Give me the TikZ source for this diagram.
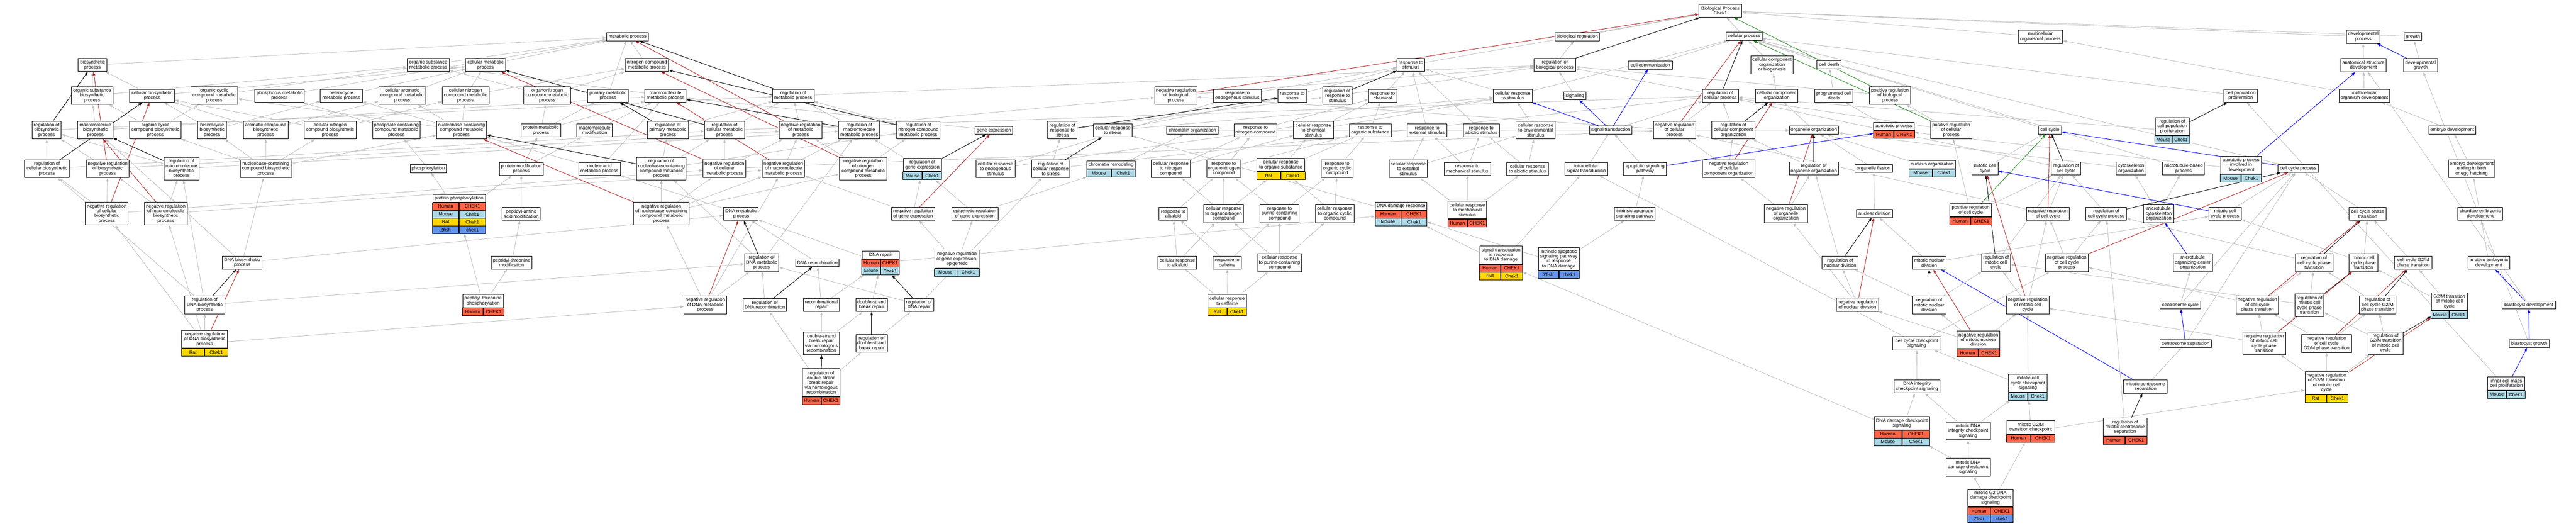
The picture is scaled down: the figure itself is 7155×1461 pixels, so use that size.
\documentclass[tikz,border=0pt]{standalone}
\usepackage{fontspec}
\setmainfont{Liberation Sans}
\usetikzlibrary{arrows.meta,calc,fit,backgrounds}

\definecolor{human}{HTML}{FF6347}
\definecolor{mouse}{HTML}{ADD8E6}
\definecolor{rat}{HTML}{FFD700}
\definecolor{zfish}{HTML}{6495ED}
\definecolor{edgegrey}{HTML}{C0C0C0}
\definecolor{negred}{HTML}{B22222}
\definecolor{posgreen}{HTML}{228B22}

\newcommand{\gofont}{\fontsize{13}{13.4}\selectfont}

\tikzset{
  term/.style={draw=black,fill=white,line width=1.3pt,inner xsep=3pt,inner ysep=0pt,align=center,font=\gofont},
  h1/.style={minimum height=22},
  h2/.style={minimum height=36.5},
  h3/.style={minimum height=49.5},
  h4/.style={minimum height=63},
  h5/.style={minimum height=76},
  cell/.style={draw=black,line width=1.3pt,inner sep=0pt,minimum height=21.5,font=\gofont},
  isa/.style={draw=edgegrey,line width=1.3pt,-{Triangle[length=10pt,width=7pt]}},
  reg/.style={isa,draw=black},
  negreg/.style={isa,draw=negred},
  posreg/.style={isa,draw=posgreen},
  partof/.style={isa,draw=blue}
}

% species/gene rows under a term: name, half width, list
\newcommand{\orth}[3]{%
  \foreach \spc/\gn/\cl [count=\i] in {#3}{
    \node[cell,fill=\cl,minimum width=#2,anchor=north east] (#1-\i a) at ($(t-#1.south)+(0,{(\i-1)*21.5})$) {\spc};
    \node[cell,fill=\cl,minimum width=#2,anchor=north west] (#1-\i b) at ($(t-#1.south)+(0,{(\i-1)*21.5})$) {\gn};
    \coordinate (#1-end) at (#1-\i b.south east);
  }
  \node[fit=(t-#1)(#1-end),inner sep=0pt] (#1) {};
}

\begin{document}
\begin{tikzpicture}[x=1pt,y=-1pt]
\useasboundingbox (0,0) rectangle (7155,1461);

% --- biosynthesis ---
\node[term,h2,minimum width=80] (biosyn) at (257,180.5) {biosynthetic\\process};
\node[term,h2,minimum width=117] (orgsubmet) at (1189.5,180.5) {organic substance\\metabolic process};
\node[term,h3,minimum width=116] (orgsubbio) at (256,265.5) {organic substance\\biosynthetic\\process};
\node[term,h2,minimum width=125] (cellbio) at (422.5,266) {cellular biosynthetic\\process};
\node[term,h3,minimum width=130] (orgcycmet) at (595,265.5) {organic cyclic\\compound metabolic\\process};
\node[term,h2,minimum width=137] (phosmet) at (776.5,266) {phosphorus metabolic\\process};
\node[term,h2,minimum width=116] (hetmet) at (948,266) {heterocycle\\metabolic process};
\node[term,h3,minimum width=130] (celaromet) at (1117,265.5) {cellular aromatic\\compound metabolic\\process};
\node[term,h3,minimum width=81] (regbio) at (129.5,361.5) {regulation of\\biosynthetic\\process};
\node[term,h3,minimum width=98] (macrobio) at (265,361.5) {macromolecule\\biosynthetic\\process};
\node[term,h3,minimum width=143] (orgcycbio) at (431.5,361.5) {organic cyclic\\compound biosynthetic\\process};
\node[term,h3,minimum width=80] (hetbio) at (589,361.5) {heterocycle\\biosynthetic\\process};
\node[term,h3,minimum width=124] (arobio) at (738,361.5) {aromatic compound\\biosynthetic\\process};
\node[term,h3,minimum width=144] (celnitbio) at (917,361.5) {cellular nitrogen\\compound biosynthetic\\process};
\node[term,h3,minimum width=132] (phoscont) at (1101,361.5) {phosphate-containing\\compound metabolic\\process};
\node[term,h3,minimum width=125] (regcelbio) at (130.5,468.5) {regulation of\\cellular biosynthetic\\process};
\node[term,h3,minimum width=118] (negregbio) at (299,468.5) {negative regulation\\of biosynthetic\\process};
\node[term,h4,minimum width=98] (regmacrobio) at (504,468.5) {regulation of\\macromolecule\\biosynthetic\\process};
\node[term,h3,minimum width=143] (nucbio) at (738.5,468.5) {nucleobase-containing\\compound biosynthetic\\process};
\node[term,h1,minimum width=101] (phosph) at (1189.5,468.5) {phosphorylation};
\node[term,h4,minimum width=119] (negregcelbio) at (296.5,593.5) {negative regulation\\of cellular\\biosynthetic\\process};
\node[term,h4,minimum width=119] (negregmacrobio) at (460.5,593.5) {negative regulation\\of macromolecule\\biosynthetic\\process};
\node[term,h2,minimum width=111] (dnabio) at (672.5,729.5) {DNA biosynthetic\\process};
\node[term,h3,minimum width=111] (regdnabio) at (568.5,847) {regulation of\\DNA biosynthetic\\process};
\node[term,h3,minimum width=127] (t-negregdnabio) at (568.5,942.5) {negative regulation\\of DNA biosynthetic\\process};
\orth{negregdnabio}{63.5}{Rat/Chek1/rat}

% --- metabolism ---
\node[term,h1,minimum width=116] (metab) at (1743,102) {metabolic process};
\node[term,h2,minimum width=111] (celmet) at (1348.5,180.5) {cellular metabolic\\process};
\node[term,h2,minimum width=120] (nitmet) at (1797,180.5) {nitrogen compound\\metabolic process};
\node[term,h3,minimum width=130] (celnitmet) at (1293,265.5) {cellular nitrogen\\compound metabolic\\process};
\node[term,h3,minimum width=130] (orgnitmet) at (1520,265.5) {organonitrogen\\compound metabolic\\process};
\node[term,h2,minimum width=113] (primet) at (1688.5,266) {primary metabolic\\process};
\node[term,h2,minimum width=115] (macromet) at (1848.5,266) {macromolecule\\metabolic process};
\node[term,h2,minimum width=116] (regmet) at (2203,266) {regulation of\\metabolic process};
\node[term,h3,minimum width=138] (nucmet) at (1282,361.5) {nucleobase-containing\\compound metabolic\\process};
\node[term,h2,minimum width=109] (protmet) at (1502.5,362) {protein metabolic\\process};
\node[term,h2,minimum width=99] (macromod) at (1651.5,362) {macromolecule\\modification};
\node[term,h3,minimum width=114] (regprimet) at (1855,361.5) {regulation of\\primary metabolic\\process};
\node[term,h3,minimum width=111] (regcelmet) at (2012.5,361.5) {regulation of\\cellular metabolic\\process};
\node[term,h3,minimum width=118] (negregmet) at (2224,361.5) {negative regulation\\of metabolic\\process};
\node[term,h3,minimum width=115] (regmacromet) at (2386.5,361.5) {regulation of\\macromolecule\\metabolic process};
\node[term,h2,minimum width=122] (protmod) at (1448,469) {protein modification\\process};
\node[term,h2,minimum width=116] (nucacid) at (1665,469) {nucleic acid\\metabolic process};
\node[term,h4,minimum width=138] (regnucmet) at (1837,468.5) {regulation of\\nucleobase-containing\\compound metabolic\\process};
\node[term,h3,minimum width=118] (negregcelmet) at (2012,468.5) {negative regulation\\of cellular\\metabolic process};
\node[term,h3,minimum width=118] (negregmacromet) at (2176,468.5) {negative regulation\\of macromolecule\\metabolic process};
\node[term,h4,minimum width=131] (negregnitmet) at (2397.5,468.5) {negative regulation\\of nitrogen\\compound metabolic\\process};
\node[term,h1,minimum width=146] (t-protphos) at (1275,550.5) {protein phosphorylation};
\orth{protphos}{73}{Human/CHEK1/human,Mouse/Chek1/mouse,Rat/Chek1/rat,Zfish/chek1/zfish}
\node[term,h2,minimum width=107] (peptaa) at (1447.5,594) {peptidyl-amino\\acid modification};
\node[term,h4,minimum width=154] (negregnucmet) at (1837,593.5) {negative regulation\\of nucleobase-containing\\compound metabolic\\process};
\node[term,h2,minimum width=96] (dnamet) at (2058,594) {DNA metabolic\\process};
\node[term,h2,minimum width=112] (pepthrmod) at (1421,729.5) {peptidyl-threonine\\modification};
\node[term,h3,minimum width=95] (regdnamet) at (2115.5,729.5) {regulation of\\DNA metabolic\\process};
\node[term,h1,minimum width=121] (dnarec) at (2270.5,730) {DNA recombination};
\node[term,h2,minimum width=114] (t-pepthrphos) at (1342,836) {peptidyl-threonine\\phosphorylation};
\orth{pepthrphos}{57}{Human/CHEK1/human}
\node[term,h3,minimum width=118] (negregdnamet) at (1959,847) {negative regulation\\of DNA metabolic\\process};
\node[term,h2,minimum width=121] (regdnarec) at (2124.5,847) {regulation of\\DNA recombination};
\node[term,h2,minimum width=101] (recrep) at (2281.5,847) {recombinational\\repair};
\node[term,h4,minimum width=101] (dsbhr) at (2281.5,953.5) {double-strand\\break repair\\via homologous\\recombination};
\node[term,h5,minimum width=104] (t-regdsbhr) at (2281,1062.5) {regulation of\\double-strand\\break repair\\via homologous\\recombination};
\orth{regdsbhr}{52}{Human/CHEK1/human}
\node[term,h1,minimum width=103] (t-dnarep) at (2446,708) {DNA repair};
\orth{dnarep}{51.5}{Human/CHEK1/human,Mouse/Chek1/mouse}
\node[term,h2,minimum width=88] (dsbrep) at (2421,847) {double-strand\\break repair};
\node[term,h2,minimum width=81] (regdnarep) at (2552.5,847) {regulation of\\DNA repair};
\node[term,h3,minimum width=88] (regdsb) at (2421,953.5) {regulation of\\double-strand\\break repair};

% --- gene expression, stress, chemicals ---
\node[term,h3,minimum width=120] (regnitmet) at (2551,361.5) {regulation of\\nitrogen compound\\metabolic process};
\node[term,h1,minimum width=105] (geneexp) at (2760.5,362) {gene expression};
\node[term,h3,minimum width=82] (regrespstress) at (2951,361.5) {regulation of\\response to\\stress};
\node[term,h2,minimum width=108] (celrespstress) at (3091,362) {cellular response\\to stress};
\node[term,h1,minimum width=142] (chromorg) at (3312,362) {chromatin organization};
\node[term,h2,minimum width=119] (respnit) at (3487.5,362) {response to\\nitrogen compound};
\node[term,h3,minimum width=111] (celrespchem) at (3648,361.5) {cellular response\\to chemical\\stimulus};
\node[term,h2,minimum width=106] (t-reggeneexp) at (2562,458) {regulation of\\gene expression};
\orth{reggeneexp}{53}{Mouse/Chek1/mouse}
\node[term,h3,minimum width=108] (celrespendo) at (2765,468.5) {cellular response\\to endogenous\\stimulus};
\node[term,h3,minimum width=107] (regcelrespstress) at (2918.5,468.5) {regulation of\\cellular response\\to stress};
\node[term,h1,minimum width=134] (t-chromrem) at (3086,458) {chromatin remodeling};
\orth{chromrem}{67}{Mouse/Chek1/mouse}
\node[term,h3,minimum width=108] (celrespnit) at (3252,468.5) {cellular response\\to nitrogen\\compound};
\node[term,h3,minimum width=94] (resporgnit) at (3399,468.5) {response to\\organonitrogen\\compound};
\node[term,h2,minimum width=133] (t-celresporg) at (3557.5,458) {cellular response\\to organic substance};
\orth{celresporg}{66.5}{Rat/Chek1/rat}
\node[term,h2,minimum width=120] (negreggeneexp) at (2536,594) {negative regulation\\of gene expression};
\node[term,h2,minimum width=129] (epireg) at (2707.5,594) {epigenetic regulation\\of gene expression};
\node[term,h2,minimum width=79] (respalk) at (3258.5,594) {response to\\alkaloid};
\node[term,h3,minimum width=111] (celresporgnit) at (3398.5,593.5) {cellular response\\to organonitrogen\\compound};
\node[term,h3,minimum width=108] (resppur) at (3554,593.5) {response to\\purine-containing\\compound};
\node[term,h3,minimum width=124] (t-negrepi) at (2658,719.5) {negative regulation\\of gene expression,\\epigenetic};
\orth{negrepi}{62}{Mouse/Chek1/mouse}
\node[term,h2,minimum width=108] (celrespalk) at (3270,729.5) {cellular response\\to alkaloid};
\node[term,h2,minimum width=79] (respcaf) at (3408.5,729.5) {response to\\caffeine};
\node[term,h3,minimum width=122] (celresppur) at (3554,729.5) {cellular response\\to purine-containing\\compound};
\node[term,h2,minimum width=107] (t-celrespcaf) at (3408.5,836) {cellular response\\to caffeine};
\orth{celrespcaf}{53.5}{Rat/Chek1/rat}
\node[term,h3,minimum width=118] (negregbp) at (3266,265.5) {negative regulation\\of biological\\process};
\node[term,h2,minimum width=134] (respendo) at (3437,266) {response to\\endogenous stimulus};
\node[term,h2,minimum width=79] (respstress) at (3589.5,266) {response to\\stress};

% --- stimulus and signalling ---
\node[term,h2,minimum width=119] (root) at (4778.5,30) {Biological Process\\Chek1};
\node[term,h1,minimum width=123] (bioreg) at (4380.5,102) {biological regulation};
\node[term,h2,minimum width=78] (respstim) at (3919,180.5) {response to\\stimulus};
\node[term,h2,minimum width=115] (regbp) at (4318.5,180.5) {regulation of\\biological process};
\node[term,h1,minimum width=122] (cellcomm) at (4584,181) {cell communication};
\node[term,h3,minimum width=82] (regrespstim) at (3715,265.5) {regulation of\\response to\\stimulus};
\node[term,h2,minimum width=79] (respchem) at (3840.5,266) {response to\\chemical};
\node[term,h2,minimum width=108] (celrespstim) at (4202,266) {cellular response\\to stimulus};
\node[term,h1,minimum width=61] (signaling) at (4374.5,266.5) {signaling};
\node[term,h2,minimum width=101] (regcp) at (4778.5,266) {regulation of\\cellular process};
\node[term,h2,minimum width=116] (resporg) at (3806,362) {response to\\organic substance};
\node[term,h2,minimum width=110] (respext) at (3964,362) {response to\\external stimulus};
\node[term,h2,minimum width=101] (respabio) at (4114.5,362) {response to\\abiotic stimulus};
\node[term,h3,minimum width=109] (celrespenv) at (4265.5,361.5) {cellular response\\to environmental\\stimulus};
\node[term,h1,minimum width=118] (sigtrans) at (4474,361.5) {signal transduction};
\node[term,h3,minimum width=118] (negregcp) at (4651,361.5) {negative regulation\\of cellular\\process};
\node[term,h3,minimum width=119] (regccorg) at (4814.5,361.5) {regulation of\\cellular component\\organization};
\node[term,h3,minimum width=90] (respcyc) at (3714,468.5) {response to\\organic cyclic\\compound};
\node[term,h3,minimum width=107] (celrespext) at (3911.5,468.5) {cellular response\\to external\\stimulus};
\node[term,h2,minimum width=129] (respmech) at (4075.5,469) {response to\\mechanical stimulus};
\node[term,h2,minimum width=116] (celrespabio) at (4243,469) {cellular response\\to abiotic stimulus};
\node[term,h2,minimum width=118] (intrasig) at (4406,469) {intracellular\\signal transduction};
\node[term,h2,minimum width=119] (aposig) at (4569.5,469) {apoptotic signaling\\pathway};
\node[term,h3,minimum width=147] (negregccorg) at (4801.5,468.5) {negative regulation\\of cellular\\component organization};
\node[term,h3,minimum width=107] (celrespcyc) at (3707.5,593.5) {cellular response\\to organic cyclic\\compound};
\node[term,h1,minimum width=143] (t-dnadam) at (3891.5,572) {DNA damage response};
\orth{dnadam}{71.5}{Human/CHEK1/human,Mouse/Chek1/mouse}
\node[term,h3,minimum width=107] (t-celrespmech) at (4075.5,583) {cellular response\\to mechanical\\stimulus};
\orth{celrespmech}{53.5}{Human/CHEK1/human}
\node[term,h2,minimum width=113] (intrapo) at (4540.5,594) {intrinsic apoptotic\\signaling pathway};
\node[term,h3,minimum width=118] (t-sigdna) at (4169,708.5) {signal transduction\\in response\\to DNA damage};
\orth{sigdna}{59}{Human/CHEK1/human,Rat/Chek1/rat}
\node[term,h4,minimum width=113] (t-intrapodna) at (4329.5,719.5) {intrinsic apoptotic\\signaling pathway\\in response\\to DNA damage};
\orth{intrapodna}{56.5}{Zfish/chek1/zfish}

% --- cellular process, cell cycle ---
\node[term,h1,minimum width=100] (cellproc) at (4844,101) {cellular process};
\node[term,h2,minimum width=123] (multorg) at (5667.5,102) {multicellular\\organismal process};
\node[term,h3,minimum width=118] (ccob) at (4922,180) {cellular component\\organization\\or biogenesis};
\node[term,h1,minimum width=67] (celldeath) at (5080.5,179.5) {cell death};
\node[term,h2,minimum width=118] (ccorg) at (4935,266) {cellular component\\organization};
\node[term,h2,minimum width=107] (pcd) at (5093.5,266) {programmed cell\\death};
\node[term,h3,minimum width=115] (posregbp) at (5249.5,265.5) {positive regulation\\of biological\\process};
\node[term,h1,minimum width=136] (orgorg) at (5038,361.5) {organelle organization};
\node[term,h1,minimum width=113] (t-apop) at (5260.5,350.5) {apoptotic process};
\orth{apop}{56.5}{Human/CHEK1/human}
\node[term,h3,minimum width=115] (posregcp) at (5419.5,361.5) {positive regulation\\of cellular\\process};
\node[term,h1,minimum width=65] (cellcycle) at (5693.5,361.5) {cell cycle};
\node[term,h2,minimum width=136] (regorgorg) at (5038,468) {regulation of\\organelle organization};
\node[term,h1,minimum width=104] (orgfis) at (5204,468) {organelle fission};
\node[term,h1,minimum width=128] (t-nucorg) at (5367,457) {nucleus organization};
\orth{nucorg}{64}{Mouse/Chek1/mouse}
\node[term,h2,minimum width=73] (mitcc) at (5513.5,468) {mitotic cell\\cycle};
\node[term,h2,minimum width=81] (regcc) at (5738.5,468) {regulation of\\cell cycle};
\node[term,h2,minimum width=82] (cytorg) at (5919,468) {cytoskeleton\\organization};
\node[term,h3,minimum width=119] (negregorgorg) at (4960.5,593.5) {negative regulation\\of organelle\\organization};
\node[term,h1,minimum width=100] (nucdiv) at (5207,593) {nuclear division};
\node[term,h2,minimum width=116] (t-posregcc) at (5474,584) {positive regulation\\of cell cycle};
\orth{posregcc}{58}{Human/CHEK1/human}
\node[term,h2,minimum width=118] (negregcc) at (5688,594) {negative regulation\\of cell cycle};
\node[term,h2,minimum width=114] (regccp) at (5850,594) {regulation of\\cell cycle process};
\node[term,h3,minimum width=84] (mtcyto) at (5996,593.5) {microtubule\\cytoskeleton\\organization};
\node[term,h2,minimum width=100] (regnucdiv) at (5111,730) {regulation of\\nuclear division};
\node[term,h2,minimum width=95] (mitnucdiv) at (5358.5,730) {mitotic nuclear\\division};
\node[term,h3,minimum width=80] (regmitcc) at (5544,729.5) {regulation of\\mitotic cell\\cycle};
\node[term,h3,minimum width=119] (negregccp) at (5740.5,729.5) {negative regulation\\of cell cycle\\process};
\node[term,h2,minimum width=118] (negregnucdiv) at (5159,846) {negative regulation\\of nuclear division};
\node[term,h3,minimum width=95] (regmitnucdiv) at (5358.5,847) {regulation of\\mitotic nuclear\\division};
\node[term,h3,minimum width=118] (negregmitcc) at (5632,847) {negative regulation\\of mitotic cell\\cycle};
\node[term,h3,minimum width=118] (t-negregmitnucdiv) at (5495,943.5) {negative regulation\\of mitotic nuclear\\division};
\orth{negregmitnucdiv}{59}{Human/CHEK1/human}
\node[term,h2,minimum width=134] (ccchk) at (5324,954) {cell cycle checkpoint\\signaling};
\node[term,h2,minimum width=127] (dnaintchk) at (5324.5,1073.5) {DNA integrity\\checkpoint signaling};
\node[term,h3,minimum width=107] (t-mitccchk) at (5632.5,1064.5) {mitotic cell\\cycle checkpoint\\signaling};
\orth{mitccchk}{53.5}{Mouse/Chek1/mouse}
\node[term,h2,minimum width=122] (mitcsep) at (5959,1074) {mitotic centrosome\\separation};
\node[term,h2,minimum width=153] (t-dnadamchk) at (5282.5,1175.5) {DNA damage checkpoint\\signaling};
\orth{dnadamchk}{76.5}{Human/CHEK1/human,Mouse/Chek1/mouse}
\node[term,h3,minimum width=123] (mitdnaintchk) at (5466.5,1197) {mitotic DNA\\integrity checkpoint\\signaling};
\node[term,h2,minimum width=133] (t-mitg2mchk) at (5640.5,1187) {mitotic G2/M\\transition checkpoint};
\orth{mitg2mchk}{66.5}{Human/CHEK1/human}
\node[term,h3,minimum width=121] (t-regmitcsep) at (5902.5,1186.5) {regulation of\\mitotic centrosome\\separation};
\orth{regmitcsep}{60.5}{Human/CHEK1/human}
\node[term,h3,minimum width=123] (mitdnadamchk) at (5466.5,1298) {mitotic DNA\\damage checkpoint\\signaling};
\node[term,h3,minimum width=125] (t-mitg2dna) at (5528.5,1383) {mitotic G2 DNA\\damage checkpoint\\signaling};
\orth{mitg2dna}{62.5}{Human/CHEK1/human,Zfish/chek1/zfish}

% --- development, phase transitions ---
\node[term,h2,minimum width=94] (devproc) at (6564,102) {developmental\\process};
\node[term,h1,minimum width=48] (growth) at (6702,101.5) {growth};
\node[term,h2,minimum width=127] (anatdev) at (6564.5,181) {anatomical structure\\development};
\node[term,h2,minimum width=95] (devgrowth) at (6723.5,181) {developmental\\growth};
\node[term,h2,minimum width=93] (cellprolif) at (6223.5,266) {cell population\\proliferation};
\node[term,h2,minimum width=140] (multdev) at (6567,266) {multicellular\\organism development};
\node[term,h3,minimum width=95] (t-regcellprolif) at (6033.5,351.5) {regulation of\\cell population\\proliferation};
\orth{regcellprolif}{47.5}{Mouse/Chek1/mouse}
\node[term,h1,minimum width=130] (embdev) at (6811,361.5) {embryo development};
\node[term,h2,minimum width=116] (mtproc) at (6065,468) {microtubule-based\\process};
\node[term,h3,minimum width=113] (t-apodev) at (6224.5,458.5) {apoptotic process\\involved in\\development};
\orth{apodev}{56.5}{Mouse/Chek1/mouse}
\node[term,h1,minimum width=113] (ccproc) at (6383.5,468) {cell cycle process};
\node[term,h3,minimum width=130] (embbirth) at (6865,468.5) {embryo development\\ending in birth\\or egg hatching};
\node[term,h2,minimum width=90] (mitccproc) at (6180,594) {mitotic cell\\cycle process};
\node[term,h2,minimum width=103] (ccpt) at (6576.5,594) {cell cycle phase\\transition};
\node[term,h2,minimum width=124] (chorddev) at (6889,594) {chordate embryonic\\development};
\node[term,h3,minimum width=109] (mtoc) at (6090.5,729.5) {microtubule\\organizing center\\organization};
\node[term,h3,minimum width=105] (regccpt) at (6427.5,729.5) {regulation of\\cell cycle phase\\transition};
\node[term,h3,minimum width=80] (mitccpt) at (6565,729.5) {mitotic cell\\cycle phase\\transition};
\node[term,h2,minimum width=104] (g2mpt) at (6703,730) {cell cycle G2/M\\phase transition};
\node[term,h2,minimum width=116] (utero) at (6913,730) {in utero embryonic\\development};
\node[term,h1,minimum width=114] (csomecyc) at (6056,847) {centrosome cycle};
\node[term,h3,minimum width=118] (negregccpt) at (6270,847) {negative regulation\\of cell cycle\\phase transition};
\node[term,h4,minimum width=81] (regmitccpt) at (6414.5,847.5) {regulation of\\mitotic cell\\cycle phase\\transition};
\node[term,h3,minimum width=102] (regg2mpt) at (6604,847) {regulation of\\cell cycle G2/M\\phase transition};
\node[term,h3,minimum width=100] (t-g2mmit) at (6803,838) {G2/M transition\\of mitotic cell\\cycle};
\orth{g2mmit}{50}{Mouse/Chek1/mouse}
\node[term,h1,minimum width=148] (blastdev) at (7024,847) {blastocyst development};
\node[term,h1,minimum width=143] (csomesep) at (6070.5,954) {centrosome separation};
\node[term,h4,minimum width=119] (negregmitccpt) at (6288.5,953.5) {negative regulation\\of mitotic cell\\cycle phase\\transition};
\node[term,h3,minimum width=138] (negregg2mpt) at (6462,954) {negative regulation\\of cell cycle\\G2/M phase transition};
\node[term,h4,minimum width=98] (regg2mmit) at (6626,953.5) {regulation of\\G2/M transition\\of mitotic cell\\cycle};
\node[term,h1,minimum width=112] (blastgrowth) at (7025,954) {blastocyst growth};
\node[term,h4,minimum width=118] (t-negregg2mmit) at (6462,1063.5) {negative regulation\\of G2/M transition\\of mitotic cell\\cycle};
\orth{negregg2mmit}{59}{Rat/Chek1/rat}
\node[term,h2,minimum width=103] (t-icm) at (6961.5,1065.5) {inner cell mass\\cell proliferation};
\orth{icm}{51.5}{Mouse/Chek1/mouse}

% --- is_a / part_of links (grey) ---
\begin{scope}[on background layer]
\foreach \a/\b in {biosyn/metab, orgsubmet/metab, orgsubbio/biosyn, orgsubbio/orgsubmet, cellbio/biosyn, cellbio/celmet,
  orgcycmet/orgsubmet, phosmet/metab, hetmet/celmet, celaromet/celmet, regbio/regmet, macrobio/orgsubbio, macrobio/macromet,
  orgcycbio/orgsubbio, orgcycbio/orgcycmet, hetbio/cellbio, hetbio/hetmet, arobio/cellbio, arobio/celaromet,
  celnitbio/cellbio, celnitbio/celnitmet, phoscont/phosmet, regcelbio/regbio, regcelbio/regcelmet, negregbio/regbio,
  negregbio/negregmet, regmacrobio/regbio, regmacrobio/regmacromet, nucbio/hetbio, nucbio/arobio, nucbio/celnitbio,
  nucbio/nucmet, nucbio/orgcycbio, phosph/phoscont, negregcelbio/regcelbio, negregcelbio/negregbio, negregcelbio/negregcelmet,
  negregmacrobio/regmacrobio, negregmacrobio/negregbio, negregmacrobio/negregmacromet, dnabio/nucbio, dnabio/macrobio,
  dnabio/dnamet, regdnabio/regcelbio, regdnabio/regmacrobio, regdnabio/regdnamet, negregdnabio/regdnabio,
  negregdnabio/negregcelbio, negregdnabio/negregmacrobio, negregdnabio/negregdnamet,
  celmet/metab, nitmet/metab, celnitmet/celmet, celnitmet/nitmet, orgnitmet/orgsubmet, orgnitmet/nitmet, primet/metab,
  macromet/orgsubmet, regmet/regbp, nucmet/celnitmet, nucmet/hetmet, nucmet/celaromet, nucmet/orgcycmet,
  protmet/orgnitmet, protmet/macromet, protmet/primet, macromod/macromet, regprimet/regmet, regcelmet/regmet, regcelmet/regcp,
  negregmet/regmet, negregmet/negregbp, regmacromet/regmet, protmod/protmet, protmod/macromod, nucacid/nucmet, nucacid/macromet,
  regnucmet/regcelmet, regnucmet/regprimet, regnucmet/regnitmet, negregcelmet/regcelmet, negregcelmet/negregmet,
  negregcelmet/negregcp, negregmacromet/regmacromet, negregmacromet/negregmet, negregnitmet/regnitmet, negregnitmet/negregmet,
  protphos/protmod, protphos/phosph, peptaa/protmod, negregnucmet/regnucmet, negregnucmet/negregcelmet,
  negregnucmet/negregnitmet, negregnucmet/negregmacromet, dnamet/nucacid, pepthrmod/peptaa, regdnamet/regnucmet,
  regdnamet/regmacromet, dnarec/dnamet, pepthrphos/pepthrmod, pepthrphos/protphos, negregdnamet/regdnamet,
  negregdnamet/negregnucmet, negregdnamet/negregmacromet, regdnarec/regdnamet, recrep/dnarec, recrep/dnarep,
  dsbhr/recrep, dsbhr/dsbrep, regdsbhr/regdnarec, regdsbhr/regdsb, dnarep/dnamet, dnarep/dnadam, dsbrep/dnarep,
  regdnarep/regdnamet, regdnarep/regcelrespstress, regdsb/regdnarep,
  regnitmet/regmet, geneexp/macromet, reggeneexp/regmacromet, negreggeneexp/reggeneexp, negreggeneexp/negregmacromet,
  epireg/reggeneexp, epireg/chromrem, negrepi/epireg, negrepi/negreggeneexp, regrespstress/regrespstim,
  celrespstress/respstress, celrespstress/celrespstim, regcelrespstress/regrespstress, regcelrespstress/regcp,
  celrespendo/respendo, celrespendo/celrespstim, chromorg/orgorg, chromrem/chromorg, respnit/respchem,
  celrespnit/respnit, celrespnit/celrespchem, resporgnit/respnit, resporgnit/resporg, celresporg/resporg,
  celresporg/celrespchem, respalk/resporgnit, celresporgnit/resporgnit, celresporgnit/celrespnit, celresporgnit/celresporg,
  resppur/resporgnit, resppur/respcyc, celrespalk/respalk, celrespalk/celresporgnit, respcaf/respalk, respcaf/resppur,
  celresppur/resppur, celresppur/celresporgnit, celresppur/celrespcyc, celrespcaf/respcaf, celrespcaf/celrespalk,
  celrespcaf/celresppur, negregbp/regbp, respendo/respstim, respstress/respstim,
  respstim/root, bioreg/root, regbp/bioreg, cellcomm/cellproc, regrespstim/regbp, respchem/respstim, celrespstim/respstim,
  celrespstim/cellproc, signaling/regbp, celrespchem/respchem, celrespchem/celrespstim, resporg/respchem, respext/respstim,
  respabio/respstim, celrespenv/celrespstim, sigtrans/regcp, negregcp/regcp, negregcp/negregbp, regcp/regbp,
  regccorg/regcp, respcyc/resporg, celrespext/respext, celrespext/celrespenv, respmech/respext, respmech/respabio,
  celrespabio/respabio, celrespabio/celrespenv, intrasig/sigtrans, aposig/sigtrans, negregccorg/regccorg,
  negregccorg/negregcp, celrespcyc/respcyc, celrespcyc/celresporg, dnadam/celrespstress, celrespmech/respmech,
  celrespmech/celrespext, celrespmech/celrespabio, intrapo/aposig, sigdna/intrasig, sigdna/dnadam, intrapodna/intrapo,
  intrapodna/dnadam,
  cellproc/root, multorg/root, ccob/cellproc, celldeath/cellproc, ccorg/ccob, pcd/celldeath, posregbp/regbp,
  orgorg/ccorg, apop/pcd, posregcp/posregbp, posregcp/regcp, cellcycle/cellproc, regorgorg/regccorg, orgfis/orgorg,
  nucorg/orgorg, mitcc/cellcycle, regcc/regcp, cytorg/orgorg, negregorgorg/regorgorg, negregorgorg/negregccorg,
  nucdiv/orgfis, posregcc/regcc, posregcc/posregcp, negregcc/regcc, negregcc/negregcp, regccp/regcc, mtcyto/cytorg,
  mtcyto/mtproc, regnucdiv/regorgorg, mitnucdiv/nucdiv, mitnucdiv/mitccproc, regmitcc/regcc, negregccp/regccp,
  negregccp/negregcc, negregnucdiv/regnucdiv, negregnucdiv/negregorgorg, regmitnucdiv/regnucdiv, regmitnucdiv/regmitcc,
  negregmitcc/regmitcc, negregmitcc/negregcc, negregmitnucdiv/regmitnucdiv, negregmitnucdiv/negregnucdiv,
  negregmitnucdiv/negregmitcc, ccchk/negregccp, ccchk/intrasig, dnaintchk/ccchk, mitccchk/ccchk, mitccchk/negregmitcc,
  mitcsep/csomesep, dnadamchk/dnaintchk, dnadamchk/sigdna, mitdnaintchk/dnaintchk, mitdnaintchk/mitccchk,
  mitg2mchk/mitccchk, mitg2mchk/negregg2mmit, regmitcsep/regccp, mitdnadamchk/dnadamchk, mitdnadamchk/mitdnaintchk,
  mitg2dna/mitdnadamchk, mitg2dna/mitg2mchk,
  devproc/root, growth/root, anatdev/devproc, devgrowth/growth, cellprolif/cellproc, multdev/anatdev, multdev/multorg,
  regcellprolif/regcp, embdev/multdev, mtproc/cellproc, apodev/apop, ccproc/cellproc, embbirth/embdev,
  mitccproc/ccproc, ccpt/ccproc, chorddev/embbirth, regccpt/regccp, mitccpt/ccpt, mitccpt/mitccproc, g2mpt/ccpt,
  utero/chorddev, csomecyc/mtoc, csomecyc/ccproc, negregccpt/regccpt, negregccpt/negregccp, regmitccpt/regccpt,
  regmitccpt/regmitcc, regg2mpt/regccpt, g2mmit/mitccpt, g2mmit/g2mpt, blastdev/anatdev, csomesep/ccproc,
  negregmitccpt/regmitccpt, negregmitccpt/negregccpt, negregmitccpt/negregmitcc, negregg2mpt/regg2mpt,
  negregg2mpt/negregccpt, regg2mmit/regg2mpt, regg2mmit/regmitccpt, blastgrowth/devgrowth, negregg2mmit/regg2mmit,
  negregg2mmit/negregmitccpt, negregg2mmit/negregg2mpt, icm/cellprolif}
  \draw[isa] (\a) -- (\b);

% regulates
\foreach \a/\b in {regbio/biosyn, regcelbio/cellbio, regmacrobio/macrobio, regdnabio/dnabio, regmet/metab,
  regprimet/primet, regcelmet/celmet, regmacromet/macromet, regnitmet/nitmet, regnucmet/nucmet, regdnamet/dnamet,
  regdnarec/dnarec, regdsbhr/dsbhr, regdnarep/dnarep, regdsb/dsbrep, reggeneexp/geneexp, regrespstress/respstress,
  regcelrespstress/celrespstress, regrespstim/respstim, regbp/root, regcp/cellproc, regccorg/ccorg, regorgorg/orgorg,
  regcc/cellcycle, regccp/ccproc, regnucdiv/nucdiv, regmitcc/mitcc, regmitnucdiv/mitnucdiv, regmitcsep/mitcsep,
  regcellprolif/cellprolif, regccpt/ccpt, regmitccpt/mitccpt, regg2mpt/g2mpt, regg2mmit/g2mmit}
  \draw[reg] (\a) -- (\b);

% negatively regulates
\foreach \a/\b in {negregbio/biosyn, negregcelbio/cellbio, negregmacrobio/macrobio, negregdnabio/dnabio,
  negregmet/metab, negregcelmet/celmet, negregmacromet/macromet, negregnitmet/nitmet, negregnucmet/nucmet,
  negregdnamet/dnamet, negreggeneexp/geneexp, negregbp/root, negregcp/cellproc, negregccorg/ccorg,
  negregorgorg/orgorg, negregcc/cellcycle, negregccp/ccproc, negregnucdiv/nucdiv, negregmitcc/mitcc,
  negregmitnucdiv/mitnucdiv, negregccpt/ccpt, negregmitccpt/mitccpt, negregg2mpt/g2mpt, negregg2mmit/g2mmit}
  \draw[negreg] (\a) -- (\b);

% positively regulates
\foreach \a/\b in {posregbp/root, posregcp/cellproc, posregcc/cellcycle}
  \draw[posreg] (\a) -- (\b);

% part of
\foreach \a/\b in {sigtrans/celrespstim, sigtrans/signaling, sigtrans/cellcomm, aposig/apop, mitcsep/mitnucdiv,
  ccproc/cellcycle, mitccproc/mitcc, devgrowth/devproc, apodev/anatdev, mtoc/mtcyto, csomesep/csomecyc,
  blastdev/utero, blastgrowth/blastdev, icm/blastgrowth}
  \draw[partof] (\a) -- (\b);
\end{scope}

\end{tikzpicture}
\end{document}
